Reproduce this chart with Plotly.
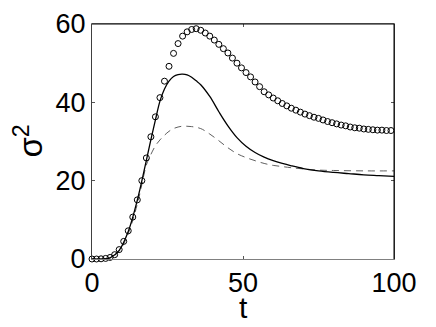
"""Variance sigma^2 over time: simulation points versus two model curves."""

import plotly.graph_objects as go

# simulation (open circles), sampled every 1.5 time units
marker_t = [i * 1.5 for i in range(67)]
marker_var = [
    0.0, 0.0, 0.05, 0.15, 0.4, 1.1, 2.4, 4.5, 7.2, 10.7,
    15.1, 20.0, 25.8, 31.2, 36.3, 41.2, 45.4, 49.2, 52.5, 55.0,
    56.9, 58.0, 58.6, 58.8, 58.4, 57.7, 56.9, 55.9, 54.8, 53.7,
    52.6, 51.3, 50.0, 48.8, 47.6, 46.5, 45.2, 44.0, 42.7, 41.9,
    41.1, 40.4, 39.7, 39.1, 38.5, 38.0, 37.5, 37.0, 36.6, 36.2,
    35.9, 35.5, 35.1, 34.8, 34.5, 34.2, 34.0, 33.7, 33.5, 33.4,
    33.2, 33.1, 33.0, 32.9, 32.9, 32.8, 32.8,
]

# solid curve
solid_t = [0, 3, 6, 9, 12, 15, 18, 19.5, 21, 22.5, 24, 25.5, 27, 28.5, 30,
           31.5, 33, 34.5, 36, 39, 42, 45, 48, 51, 54, 57, 60, 63, 66, 70,
           75, 80, 85, 90, 95, 100]
solid_var = [0, 0.02, 0.3, 2.2, 7.0, 15.0, 25.2, 30.5, 35.5, 40.3, 43.4, 45.4,
             46.6, 47.1, 47.2, 47.0, 46.4, 45.5, 44.5, 41.5, 37.6, 34.0, 31.0,
             28.8, 27.2, 26.0, 25.1, 24.4, 23.8, 23.1, 22.5, 22.1, 21.8, 21.5,
             21.3, 21.1]

# dashed curve
dash_t = [0, 3, 6, 9, 12, 15, 16.5, 18, 19.5, 21, 22.5, 24, 25.5, 27, 28.5,
          30, 33, 36, 39, 42, 45, 48, 51, 54, 57, 60, 63, 66, 70, 75, 80, 90,
          100]
dash_var = [0, 0.02, 0.3, 2.0, 6.5, 14.0, 19.0, 24.0, 26.7, 28.9, 30.4, 31.6,
            32.6, 33.3, 33.7, 33.9, 33.8, 33.3, 31.9, 30.2, 28.4, 26.9, 25.9,
            25.1, 24.4, 23.9, 23.6, 23.3, 23.0, 22.7, 22.6, 22.5, 22.5]

x_ticks = [0, 50, 100]
y_ticks = [0, 20, 40, 60]

FONT = "Liberation Sans, Arial, sans-serif"

fig = go.Figure()
fig.add_trace(go.Scatter(
    x=dash_t, y=dash_var, mode="lines", line_shape="spline",
    line={"color": "#606060", "width": 1, "dash": "7px,5px"},
))
fig.add_trace(go.Scatter(
    x=solid_t, y=solid_var, mode="lines", line_shape="spline",
    line={"color": "black", "width": 1.3},
))
fig.add_trace(go.Scatter(
    x=marker_t, y=marker_var, mode="markers", cliponaxis=False,
    marker={"symbol": "circle-open", "size": 6, "color": "black",
            "line": {"width": 1, "color": "black"}},
))

# top and right frame lines are black in the original
fig.add_shape(type="line", xref="x domain", yref="y domain",
              x0=0, x1=1, y0=1, y1=1, line={"color": "black", "width": 1})
fig.add_shape(type="line", xref="x domain", yref="y domain",
              x0=1, x1=1, y0=0, y1=1, line={"color": "black", "width": 1})

# axis titles as annotations for exact placement
fig.add_annotation(text="t", xref="x domain", yref="paper",
                   x=0.5, y=0, yshift=-48, yanchor="middle", showarrow=False,
                   font={"size": 30})
fig.add_annotation(text="σ<sup>2</sup>", xref="paper", yref="y domain",
                   x=0, xshift=-64, y=0.5, xanchor="center", yanchor="middle",
                   textangle=-90, showarrow=False, font={"size": 33})

# the page body adds an 8px offset, so the figure is sized 8px smaller
fig.update_layout(
    width=428,
    height=319,
    margin={"l": 84, "r": 42, "t": 16, "b": 68},
    paper_bgcolor="white",
    plot_bgcolor="white",
    showlegend=False,
    font={"family": FONT, "color": "black", "size": 27},
)
fig.update_xaxes(
    range=[0, 100],
    tickvals=x_ticks,
    ticks="inside",
    ticklen=3,
    tickcolor="#555",
    showline=True,
    linecolor="#808080",
    linewidth=1,
    mirror="ticks",
    showgrid=False,
    zeroline=False,
    automargin=False,
    tickfont={"size": 27},
)
fig.update_yaxes(
    range=[0, 60],
    tickvals=y_ticks,
    ticks="inside",
    ticklen=3,
    tickcolor="#555",
    showline=True,
    linecolor="#404040",
    linewidth=1,
    mirror="ticks",
    showgrid=False,
    zeroline=False,
    automargin=False,
    tickfont={"size": 27},
)

fig.write_html("out.html")
